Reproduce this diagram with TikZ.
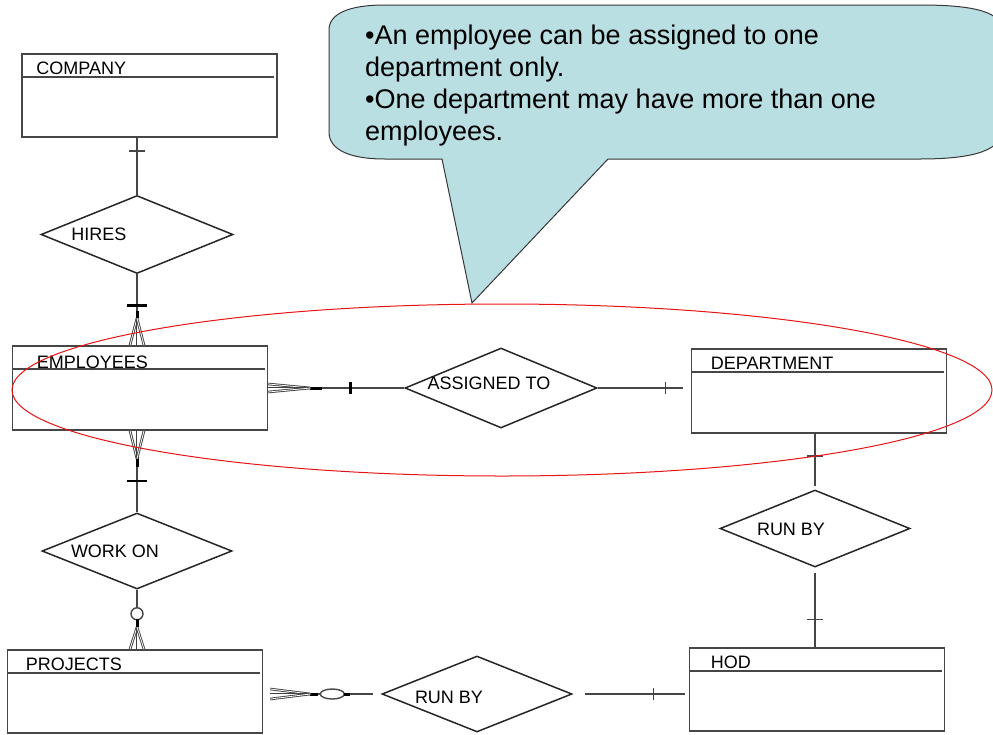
\documentclass[tikz,border=0pt]{standalone}
\usepackage{fontspec}
\setmainfont{Liberation Sans}
\usetikzlibrary{calc,shapes.geometric}
\definecolor{erline}{RGB}{70,70,70}
\definecolor{notefill}{RGB}{185,223,227}
\definecolor{noteline}{RGB}{55,55,55}
\definecolor{ringred}{RGB}{232,20,20}

\begin{document}
\begin{tikzpicture}[x=1pt,y=-1pt,font=\fontsize{18}{21}\selectfont,
    ent/.style={draw=erline,line width=1.6pt,fill=white,minimum width=255pt,
      minimum height=83pt,inner sep=0pt,
      path picture={\draw[erline,line width=1.2pt]
        ([yshift=-23pt]path picture bounding box.north west)
        -- ([yshift=-23pt,xshift=-3pt]path picture bounding box.north east);}},
    elbl/.style={anchor=base west,inner sep=0pt,xshift=20pt,yshift=-21pt},
    rel/.style={draw=black!85,line width=1.5pt,shape=diamond,fill=white,
      minimum width=192pt,minimum height=78pt,inner sep=0pt},
    rlbl/.style={inner sep=0pt},
    conn/.style={draw=erline,line width=1.4pt},
    bar/.style={draw=black,line width=3pt},
    fork/.style={draw=black!75,double=white,double distance=0.8pt,line width=0.9pt}]
  \useasboundingbox (0,0) rectangle (993,734);

  % entities
  \node[ent,label={[elbl,xshift=-5pt]north west:COMPANY}] (company) at (149.5,95.5) {};
  \node[ent,minimum height=84pt,label={[elbl,xshift=5pt,yshift=-2pt]north west:EMPLOYEES}] (emp) at (140,388) {};
  \node[ent,minimum height=84pt,label={[elbl]north west:DEPARTMENT}] (dept) at (819,391) {};
  \node[ent,label={[elbl,xshift=2pt]north west:HOD}] (hod) at (817,689.5) {};
  \node[ent,label={[elbl,xshift=-1pt]north west:PROJECTS}] (proj) at (135,691.5) {};

  % relationships
  \node[rel,label={[rlbl,xshift=-38pt]center:HIRES}] (hires) at (137,234.5) {};
  \node[rel,minimum height=80pt,label={[rlbl,xshift=-12pt,yshift=5pt]center:ASSIGNED TO}] (assign) at (501,388) {};
  \node[rel,minimum width=190pt,minimum height=77pt,label={[rlbl,xshift=-24pt,yshift=-1pt]center:RUN BY}] (deptrun) at (815,528.5) {};
  \node[rel,minimum width=190pt,minimum height=76pt,label={[rlbl,xshift=-22pt]center:WORK ON}] (workon) at (137,551) {};
  \node[rel,minimum width=190pt,minimum height=76pt,label={[rlbl,xshift=-28pt,yshift=-3pt]center:RUN BY}] (projrun) at (477,694) {};

  % COMPANY -- HIRES
  \draw[conn] (hires.north) -- (hires.north |- company.south);
  \draw[conn] ($(hires.north |- company.south)+(-8,13)$) -- ++(16,0);

  % HIRES -- EMPLOYEES
  \coordinate (hfork) at ($(hires.south |- emp.north)+(0,-27)$);
  \draw[conn] (hires.south) -- (hfork);
  \draw[bar,line width=2.5pt] ($(hires.south)+(-10,31)$) -- ++(20,0);
  \draw[bar] ($(hfork)+(0,-7)$) -- (hfork);
  \foreach \d in {-7,0,7}
    \draw[fork] (hfork) -- ($(hires.south |- emp.north)+(\d,0)$);

  % EMPLOYEES -- ASSIGNED TO
  \coordinate (afork) at ($(emp.east)+(42,0)$);
  \draw[conn] (afork) -- (assign.west);
  \draw[bar] (afork) -- ++(12,0);
  \draw[bar] ($(emp.east)+(82,-6)$) -- ++(0,12);
  \foreach \d in {-4,0,4}
    \draw[fork] (afork) -- ($(emp.east)+(0,\d)$);

  % ASSIGNED TO -- DEPARTMENT
  \draw[conn,shorten >=8pt] (assign.east) -- (assign.east -| dept.west);
  \draw[conn] ($(assign.east -| dept.west)+(-25,-6)$) -- ++(0,12);

  % DEPARTMENT -- RUN BY
  \draw[conn,shorten <=3pt] (deptrun.north) -- (deptrun.north |- dept.south);
  \draw[conn] ($(deptrun.north |- dept.south)+(-8,22)$) -- ++(16,0);

  % RUN BY -- HOD
  \draw[conn,shorten <=5pt] (deptrun.south) -- (deptrun.south |- hod.north);
  \draw[conn] ($(deptrun.south |- hod.north)+(-8,-28)$) -- ++(16,0);

  % RUN BY -- HOD (projects side)
  \draw[conn,shorten <=12pt,shorten >=4pt] (projrun.east) -- (projrun.east -| hod.west);
  \draw[conn] ($(projrun.east -| hod.west)+(-35,-6)$) -- ++(0,12);

  % PROJECTS -- RUN BY
  \coordinate (pfork) at ($(projrun.west -| proj.east)+(47,0)$);
  \draw[conn,shorten >=8pt] (pfork) -- (projrun.west);
  \draw[bar] (pfork) -- ++(8,0);
  \draw[conn,fill=white] ($(pfork)+(22,0)$) ellipse [x radius=12,y radius=5];
  \draw[bar] ($(pfork)+(34,0)$) -- ++(6,0);
  \foreach \d in {-5,0,5}
    \draw[fork] (pfork) -- ($(projrun.west -| proj.east)+(7,\d)$);

  % EMPLOYEES -- WORK ON
  \coordinate (wfork) at ($(workon.north |- emp.south)+(0,28)$);
  \draw[conn] (wfork) -- (workon.north);
  \draw[bar] ($(wfork)+(0,-2)$) -- ++(0,10);
  \draw[bar,line width=2.5pt] ($(wfork)+(-10,22)$) -- ++(20,0);
  \foreach \d in {-7,0,7}
    \draw[fork] (wfork) -- ($(workon.north |- emp.south)+(\d,0)$);

  % WORK ON -- PROJECTS
  \coordinate (wpfork) at ($(workon.south |- proj.north)+(0,-22)$);
  \draw[conn] (workon.south) -- (wpfork);
  \draw[conn,fill=white] ($(workon.south)+(0,24)$) circle [radius=6];
  \draw[bar] ($(wpfork)+(0,-8)$) -- (wpfork);
  \foreach \d in {-7,0,7}
    \draw[fork] (wpfork) -- ($(workon.south |- proj.north)+(\d,0)$);

  % note
  \path[fill=notefill,draw=noteline,line width=1pt]
    (442,159) -- (472,303) -- (608,159) -- (920,159)
    .. controls (975,159) and (1003,150) .. (1003,128) -- (1003,32)
    .. controls (1003,12) and (975,5) .. (920,5) -- (385,5)
    .. controls (348,5) and (329,14) .. (329,30) -- (329,132)
    .. controls (329,150) and (350,159) .. (385,159) -- cycle;
  \node[anchor=north west,inner sep=0pt,align=left,
    font=\fontsize{27}{32}\selectfont] (note) at (365,25)
    {•An employee can be assigned to one\\department only.\\
     •One department may have more than one\\employees.};

  % highlight
  \draw[ringred,line width=1pt] (502,390) ellipse [x radius=490,y radius=86];
\end{tikzpicture}
\end{document}
